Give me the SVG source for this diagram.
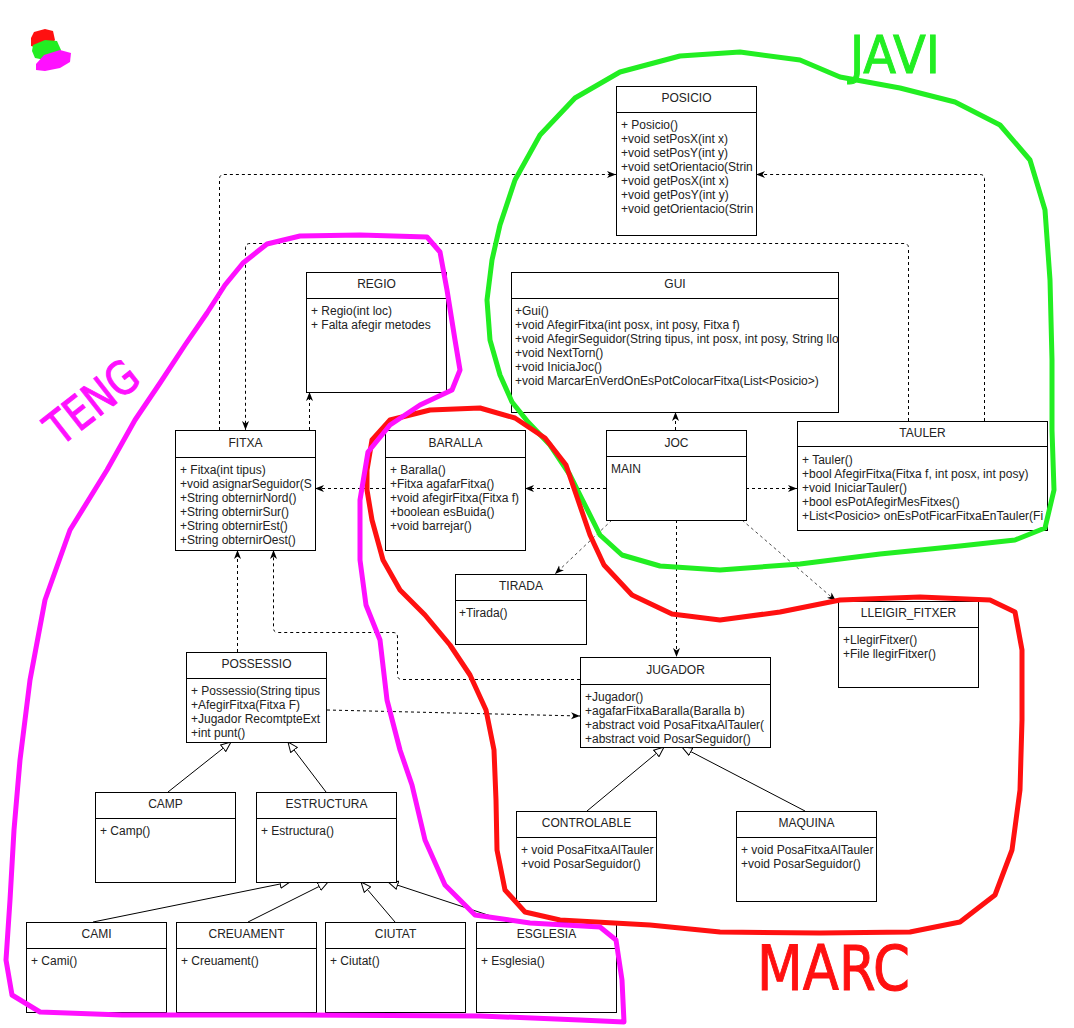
<svg xmlns="http://www.w3.org/2000/svg" width="1074" height="1028" viewBox="0 0 1074 1028">
<style>
.box{fill:#fff;stroke:#000;stroke-width:1}
.sep{stroke:#000;stroke-width:1}
.t{font-family:"Liberation Sans",Arial,Helvetica,sans-serif;font-size:12px;fill:#222}
.c{text-anchor:middle}
.dep{fill:none;stroke:#000;stroke-width:1;stroke-dasharray:3 3}
.dep2{fill:none;stroke:#222;stroke-width:0.8;stroke-dasharray:3 3}
.gen{fill:none;stroke:#000;stroke-width:1}
.hand{fill:none;stroke-width:5;stroke-linecap:round;stroke-linejoin:round}
.hw{font-family:"DejaVu Sans","Liberation Sans",sans-serif}
</style>
<defs>
<marker id="arr" markerUnits="userSpaceOnUse" markerWidth="10" markerHeight="8" refX="9" refY="4" orient="auto"><path d="M0,0.5 L9,4 L0,7.5 L2.5,4 z" fill="#000"/></marker>
<marker id="tri" markerUnits="userSpaceOnUse" markerWidth="12" markerHeight="10" refX="10.5" refY="5" orient="auto"><path d="M0.5,0.8 L10.5,5 L0.5,9.2 z" fill="#fff" stroke="#000" stroke-width="1"/></marker>
<clipPath id="cp-posicio"><rect x="616" y="86" width="140" height="149"/></clipPath>
<clipPath id="cp-gui"><rect x="511" y="272" width="327" height="140"/></clipPath>
<clipPath id="cp-fitxa"><rect x="175" y="430" width="140" height="120"/></clipPath>
<clipPath id="cp-tauler"><rect x="797" y="421" width="250" height="109"/></clipPath>
<clipPath id="cp-jugador"><rect x="580" y="657" width="190" height="90"/></clipPath>
<clipPath id="cp-possessio"><rect x="186" y="652" width="140" height="90"/></clipPath>
<clipPath id="cp-controlable"><rect x="516" y="811" width="140" height="90"/></clipPath>
<clipPath id="cp-maquina"><rect x="736" y="811" width="140" height="90"/></clipPath>
</defs>
<rect width="1074" height="1028" fill="#fff"/>

<g id="connectors">
<path class="dep" d="M219.5,430 V179 Q219.5,174.5 224,174.5 H616" marker-end="url(#arr)"/>
<path class="dep" d="M984.5,421 V179 Q984.5,174.5 980,174.5 H756" marker-end="url(#arr)"/>
<path class="dep" d="M908.5,421 V248 Q908.5,243.5 904,243.5 H250 Q245.5,243.5 245.5,248 V430" marker-end="url(#arr)"/>
<path class="dep" d="M309.5,430 V392" marker-end="url(#arr)"/>
<path class="dep" d="M385,488.5 H315" marker-end="url(#arr)"/>
<path class="dep" d="M606,488.5 H525" marker-end="url(#arr)"/>
<path class="dep" d="M746,488.5 H797" marker-end="url(#arr)"/>
<path class="dep" d="M675.5,430 V412" marker-end="url(#arr)"/>
<path class="dep2" d="M612,520 L555,574" marker-end="url(#arr)"/>
<path class="dep2" d="M742,520 L836,601" marker-end="url(#arr)"/>
<path class="dep" d="M676.5,520 V657" marker-end="url(#arr)"/>
<path class="dep" d="M580,679.5 H402 Q397.5,679.5 397.5,675 V637 Q397.5,632.5 393,632.5 H278 Q273.5,632.5 273.5,628 V550" marker-end="url(#arr)"/>
<path class="dep" d="M237.5,652 V550" marker-end="url(#arr)"/>
<path class="dep" d="M327,710 L580,716" marker-end="url(#arr)"/>
<path class="gen" d="M168,792 L231,742" marker-end="url(#tri)"/>
<path class="gen" d="M326,792 L288,742" marker-end="url(#tri)"/>
<path class="gen" d="M93,922 L290,882" marker-end="url(#tri)"/>
<path class="gen" d="M248,922 L328,882" marker-end="url(#tri)"/>
<path class="gen" d="M395,922 L361,882" marker-end="url(#tri)"/>
<path class="gen" d="M509,922 L388,882" marker-end="url(#tri)"/>
<path class="gen" d="M587,811 L664,747" marker-end="url(#tri)"/>
<path class="gen" d="M805,811 L682,747" marker-end="url(#tri)"/>
</g>

<g id="posicio">
<rect class="box" x="616.5" y="86.5" width="140" height="149"/>
<line class="sep" x1="616.5" y1="112.5" x2="756.5" y2="112.5"/>
<text class="t c" x="686.5" y="102">POSICIO</text>
<g clip-path="url(#cp-posicio)">
<text class="t" x="621" y="129">+ Posicio()</text>
<text class="t" x="621" y="143">+void setPosX(int x)</text>
<text class="t" x="621" y="157">+void setPosY(int y)</text>
<text class="t" x="621" y="171">+void setOrientacio(Strin</text>
<text class="t" x="621" y="185">+void getPosX(int x)</text>
<text class="t" x="621" y="199">+void getPosY(int y)</text>
<text class="t" x="621" y="213">+void getOrientacio(Strin</text>
</g>
</g>

<g id="regio">
<rect class="box" x="306.5" y="272.5" width="140" height="120"/>
<line class="sep" x1="306.5" y1="298.5" x2="446.5" y2="298.5"/>
<text class="t c" x="376.5" y="288">REGIO</text>
<text class="t" x="311" y="315">+ Regio(int loc)</text>
<text class="t" x="311" y="329">+ Falta afegir metodes</text>
</g>

<g id="gui">
<rect class="box" x="511.5" y="272.5" width="327" height="140"/>
<line class="sep" x1="511.5" y1="298.5" x2="838.5" y2="298.5"/>
<text class="t c" x="675" y="288">GUI</text>
<g clip-path="url(#cp-gui)">
<text class="t" x="515" y="315">+Gui()</text>
<text class="t" x="515" y="329">+void AfegirFitxa(int posx, int posy, Fitxa f)</text>
<text class="t" x="515" y="343">+void AfegirSeguidor(String tipus, int posx, int posy, String llo</text>
<text class="t" x="515" y="357">+void NextTorn()</text>
<text class="t" x="515" y="371">+void IniciaJoc()</text>
<text class="t" x="515" y="385">+void MarcarEnVerdOnEsPotColocarFitxa(List&lt;Posicio&gt;)</text>
</g>
</g>

<g id="fitxa">
<rect class="box" x="175.5" y="430.5" width="140" height="120"/>
<line class="sep" x1="175.5" y1="457.5" x2="315.5" y2="457.5"/>
<text class="t c" x="245.5" y="447">FITXA</text>
<g clip-path="url(#cp-fitxa)">
<text class="t" x="180" y="474">+ Fitxa(int tipus)</text>
<text class="t" x="180" y="488">+void asignarSeguidor(S</text>
<text class="t" x="180" y="502">+String obternirNord()</text>
<text class="t" x="180" y="516">+String obternirSur()</text>
<text class="t" x="180" y="530">+String obternirEst()</text>
<text class="t" x="180" y="544">+String obternirOest()</text>
</g>
</g>

<g id="baralla">
<rect class="box" x="385.5" y="430.5" width="140" height="120"/>
<line class="sep" x1="385.5" y1="457.5" x2="525.5" y2="457.5"/>
<text class="t c" x="455.5" y="447">BARALLA</text>
<text class="t" x="390" y="474">+ Baralla()</text>
<text class="t" x="390" y="488">+Fitxa agafarFitxa()</text>
<text class="t" x="390" y="502">+void afegirFitxa(Fitxa f)</text>
<text class="t" x="390" y="516">+boolean esBuida()</text>
<text class="t" x="390" y="530">+void barrejar()</text>
</g>

<g id="joc">
<rect class="box" x="606.5" y="430.5" width="140" height="90"/>
<line class="sep" x1="606.5" y1="456.5" x2="746.5" y2="456.5"/>
<text class="t c" x="676.5" y="447">JOC</text>
<text class="t" x="611" y="473">MAIN</text>
</g>

<g id="tauler">
<rect class="box" x="797.5" y="421.5" width="250" height="109"/>
<line class="sep" x1="797.5" y1="446.5" x2="1047.5" y2="446.5"/>
<text class="t c" x="922.5" y="437">TAULER</text>
<g clip-path="url(#cp-tauler)">
<text class="t" x="802" y="464">+ Tauler()</text>
<text class="t" x="802" y="478">+bool AfegirFitxa(Fitxa f, int posx, int posy)</text>
<text class="t" x="802" y="492">+void IniciarTauler()</text>
<text class="t" x="802" y="506">+bool esPotAfegirMesFitxes()</text>
<text class="t" x="802" y="520">+List&lt;Posicio&gt; onEsPotFicarFitxaEnTauler(Fi</text>
</g>
</g>

<g id="tirada">
<rect class="box" x="455.5" y="574.5" width="131" height="70"/>
<line class="sep" x1="455.5" y1="600.5" x2="586.5" y2="600.5"/>
<text class="t c" x="521" y="590">TIRADA</text>
<text class="t" x="459" y="617">+Tirada()</text>
</g>

<g id="lleigir_fitxer">
<rect class="box" x="838.5" y="601.5" width="140" height="86"/>
<line class="sep" x1="838.5" y1="627.5" x2="978.5" y2="627.5"/>
<text class="t c" x="908.5" y="617">LLEIGIR_FITXER</text>
<text class="t" x="843" y="644">+LlegirFitxer()</text>
<text class="t" x="843" y="658">+File llegirFitxer()</text>
</g>

<g id="jugador">
<rect class="box" x="580.5" y="657.5" width="190" height="90"/>
<line class="sep" x1="580.5" y1="684.5" x2="770.5" y2="684.5"/>
<text class="t c" x="675.5" y="674">JUGADOR</text>
<g clip-path="url(#cp-jugador)">
<text class="t" x="585" y="701">+Jugador()</text>
<text class="t" x="585" y="715">+agafarFitxaBaralla(Baralla b)</text>
<text class="t" x="585" y="729">+abstract void PosaFitxaAlTauler(</text>
<text class="t" x="585" y="743">+abstract void PosarSeguidor()</text>
</g>
</g>

<g id="possessio">
<rect class="box" x="186.5" y="652.5" width="140" height="90"/>
<line class="sep" x1="186.5" y1="678.5" x2="326.5" y2="678.5"/>
<text class="t c" x="256.5" y="668">POSSESSIO</text>
<g clip-path="url(#cp-possessio)">
<text class="t" x="191" y="695">+ Possessio(String tipus</text>
<text class="t" x="191" y="709">+AfegirFitxa(Fitxa F)</text>
<text class="t" x="191" y="723">+Jugador RecomtpteExt</text>
<text class="t" x="191" y="737">+int punt()</text>
</g>
</g>

<g id="camp">
<rect class="box" x="95.5" y="792.5" width="140" height="90"/>
<line class="sep" x1="95.5" y1="818.5" x2="235.5" y2="818.5"/>
<text class="t c" x="165.5" y="808">CAMP</text>
<text class="t" x="100" y="835">+ Camp()</text>
</g>

<g id="estructura">
<rect class="box" x="256.5" y="792.5" width="140" height="90"/>
<line class="sep" x1="256.5" y1="818.5" x2="396.5" y2="818.5"/>
<text class="t c" x="326.5" y="808">ESTRUCTURA</text>
<text class="t" x="261" y="835">+ Estructura()</text>
</g>

<g id="controlable">
<rect class="box" x="516.5" y="811.5" width="140" height="90"/>
<line class="sep" x1="516.5" y1="837.5" x2="656.5" y2="837.5"/>
<text class="t c" x="586.5" y="827">CONTROLABLE</text>
<g clip-path="url(#cp-controlable)">
<text class="t" x="521" y="854">+ void PosaFitxaAlTauler</text>
<text class="t" x="521" y="868">+void PosarSeguidor()</text>
</g>
</g>

<g id="maquina">
<rect class="box" x="736.5" y="811.5" width="140" height="90"/>
<line class="sep" x1="736.5" y1="837.5" x2="876.5" y2="837.5"/>
<text class="t c" x="806.5" y="827">MAQUINA</text>
<g clip-path="url(#cp-maquina)">
<text class="t" x="741" y="854">+ void PosaFitxaAlTauler</text>
<text class="t" x="741" y="868">+void PosarSeguidor()</text>
</g>
</g>

<g id="cami">
<rect class="box" x="26.5" y="922.5" width="140" height="90"/>
<line class="sep" x1="26.5" y1="948.5" x2="166.5" y2="948.5"/>
<text class="t c" x="96.5" y="938">CAMI</text>
<text class="t" x="31" y="965">+ Cami()</text>
</g>

<g id="creuament">
<rect class="box" x="176.5" y="922.5" width="140" height="90"/>
<line class="sep" x1="176.5" y1="948.5" x2="316.5" y2="948.5"/>
<text class="t c" x="246.5" y="938">CREUAMENT</text>
<text class="t" x="181" y="965">+ Creuament()</text>
</g>

<g id="ciutat">
<rect class="box" x="325.5" y="922.5" width="140" height="90"/>
<line class="sep" x1="325.5" y1="948.5" x2="465.5" y2="948.5"/>
<text class="t c" x="395.5" y="938">CIUTAT</text>
<text class="t" x="330" y="965">+ Ciutat()</text>
</g>

<g id="esglesia">
<rect class="box" x="476.5" y="922.5" width="140" height="90"/>
<line class="sep" x1="476.5" y1="948.5" x2="616.5" y2="948.5"/>
<text class="t c" x="546.5" y="938">ESGLESIA</text>
<text class="t" x="481" y="965">+ Esglesia()</text>
</g>

<g id="annotations">
<path d="M31,38 L34,32 L45,29 L53,31 L55,40 L50,46 L38,48 L31,46 Z" fill="#ff1010"/>
<path d="M33,45 L45,40 L57,41 L61,50 L58,58 L45,60 L35,58 L32,51 Z" fill="#22ee22"/>
<path d="M36,64 L44,55 L60,50 L71,53 L70,62 L60,68 L45,71 L36,70 Z" fill="#ff10ff"/>

<path class="hand" stroke="#22ee22" d="M840,77 L900,88 L955,102 L1000,125 L1030,160 L1045,210 L1050,280 L1052,360 L1052,430 L1054,490 L1045,528 L1015,540 L960,546 L880,554 L800,564 L720,570 L660,566 L622,555 L600,535 L585,505 L570,475 L550,445 L528,422 L512,402 L500,375 L490,340 L487,300 L492,260 L500,225 L515,180 L540,135 L575,98 L620,72 L680,56 L740,52 L800,60 Z"/>
<path class="hand" stroke="#ff1010" d="M367,470 L372,440 L390,420 L430,410 L480,408 L515,418 L545,438 L566,465 L578,500 L590,535 L604,565 L632,595 L672,614 L720,620 L780,612 L840,600 L920,597 L990,600 L1015,612 L1022,650 L1022,720 L1020,790 L1012,850 L995,895 L960,922 L910,932 L820,933 L720,932 L650,925 L560,920 L525,912 L505,890 L497,850 L496,800 L494,750 L486,710 L470,675 L450,645 L425,615 L400,590 L383,560 L372,520 L367,490 Z"/>
<path class="hand" stroke="#ff10ff" d="M107,470 L135,420 L160,383 L185,345 L207,313 L225,285 L243,263 L267,244 L300,236 L360,235 L427,237 L440,252 L447,290 L455,340 L460,370 L452,390 L420,405 L390,425 L368,452 L360,500 L360,560 L366,605 L380,640 L387,700 L400,750 L412,785 L425,840 L445,885 L475,915 L530,923 L600,927 L616,940 L622,980 L624,1022 L580,1020 L480,1016 L300,1015 L122,1015 L40,1012 L12,995 L6,960 L10,900 L14,830 L20,760 L30,680 L45,600 L70,530 Z"/>

<text class="hw" x="850" y="73" font-size="52" textLength="90" lengthAdjust="spacingAndGlyphs" fill="#22ee22" stroke="#22ee22" stroke-width="1">JAVI</text>
<text class="hw" x="757" y="990" font-size="62" textLength="153" lengthAdjust="spacingAndGlyphs" fill="#ff1010" stroke="#ff1010" stroke-width="1">MARC</text>
<text class="hw" transform="translate(92,402) rotate(-38)" x="0" y="16" text-anchor="middle" font-size="46" textLength="105" lengthAdjust="spacingAndGlyphs" fill="#ff10ff" stroke="#ff10ff" stroke-width="1">TENG</text>
</g>
</svg>
